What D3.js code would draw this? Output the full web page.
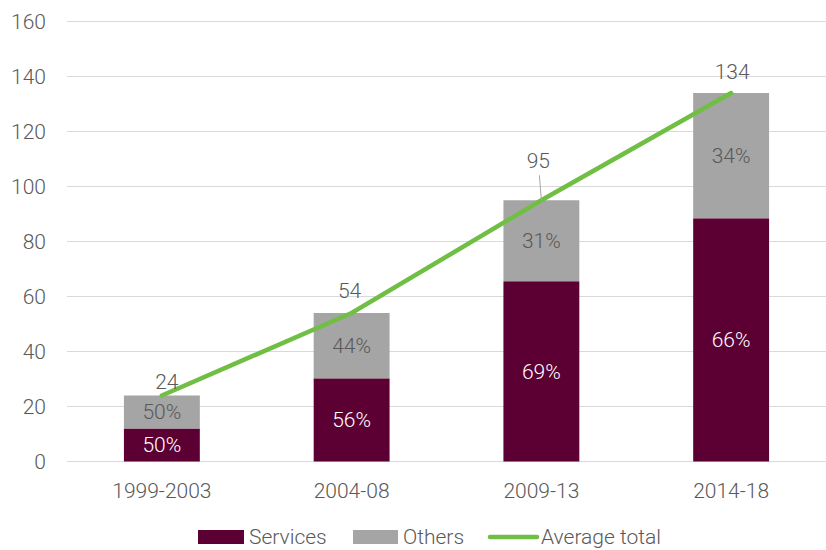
<!DOCTYPE html>
<html>
<head>
<meta charset="utf-8">
<script src="https://cdn.jsdelivr.net/npm/d3@7"></script>
<style>
  body { margin: 0; background: #fff; }
  text { font-family: Roboto, "Noto Sans", sans-serif; font-weight: 300; fill: #595959; }
</style>
</head>
<body>
<div id="chart"></div>
<script>
var periods = ["1999-2003", "2004-08", "2009-13", "2014-18"];
var totals = [24, 54, 95, 134];
var servicesShare = [50, 56, 69, 66];
var othersShare = [50, 44, 31, 34];
var yTicks = [0, 20, 40, 60, 80, 100, 120, 140, 160];

var width = 826, height = 550;
var margin = {top: 21.5, right: 0, bottom: 88.5, left: 67};
var w = width - margin.left - margin.right,
    h = height - margin.top - margin.bottom;

var colServ = "#5c0033", colOth = "#a5a5a5", colLine = "#70bf44";
var fs = "21px";

var svg = d3.select("#chart").append("svg")
    .attr("width", width)
    .attr("height", height);
var g = svg.append("g")
    .attr("transform", "translate(" + margin.left + "," + margin.top + ")");

var x = d3.scaleBand().domain(periods).range([0, w]).paddingInner(0.6).paddingOuter(0.3);
var y = d3.scaleLinear().domain([0, 160]).range([h, 0]);

// grid
g.selectAll(".grid")
  .data(yTicks)
  .enter().append("line")
    .attr("x1", 0).attr("x2", w)
    .attr("y1", function(d) { return y(d); })
    .attr("y2", function(d) { return y(d); })
    .attr("stroke", "#d9d9d9").attr("stroke-width", 1.2);

// y axis
var yAxis = g.append("g")
    .attr("transform", "translate(-21,0)")
    .call(d3.axisLeft(y).tickValues(yTicks).tickSize(0).tickPadding(0));
yAxis.select(".domain").remove();
yAxis.selectAll("text").style("font-size", fs).attr("fill", "#595959");

// x axis
var xAxis = g.append("g")
    .attr("transform", "translate(0," + h + ")")
    .call(d3.axisBottom(x).tickSize(0).tickPadding(22));
xAxis.select(".domain").remove();
xAxis.selectAll("text").style("font-size", fs).attr("fill", "#595959");

var data = periods.map(function(p, i) {
  var s = totals[i] * servicesShare[i] / 100;
  return {p: p, total: totals[i], serv: s, sp: servicesShare[i], op: othersShare[i]};
});

// bars
g.selectAll(".serv").data(data).enter().append("rect")
    .attr("x", function(d) { return x(d.p); })
    .attr("width", x.bandwidth())
    .attr("y", function(d) { return y(d.serv); })
    .attr("height", function(d) { return y(0) - y(d.serv); })
    .attr("fill", colServ);
g.selectAll(".oth").data(data).enter().append("rect")
    .attr("x", function(d) { return x(d.p); })
    .attr("width", x.bandwidth())
    .attr("y", function(d) { return y(d.total); })
    .attr("height", function(d) { return y(d.serv) - y(d.total); })
    .attr("fill", colOth);

// percent labels
g.selectAll(".sl").data(data).enter().append("text")
    .attr("x", function(d) { return x(d.p) + x.bandwidth() / 2; })
    .attr("y", function(d) { return (y(0) + y(d.serv)) / 2; })
    .attr("dy", "0.35em")
    .attr("text-anchor", "middle")
    .style("font-size", fs)
    .style("fill", "#fff")
    .text(function(d) { return d.sp + "%"; });
g.selectAll(".ol").data(data).enter().append("text")
    .attr("x", function(d) { return x(d.p) + x.bandwidth() / 2; })
    .attr("y", function(d) { return (y(d.serv) + y(d.total)) / 2; })
    .attr("dy", "0.35em")
    .attr("text-anchor", "middle")
    .style("font-size", fs)
    .text(function(d) { return d.op + "%"; });

// line
var line = d3.line()
    .x(function(d) { return x(d.p) + x.bandwidth() / 2; })
    .y(function(d) { return y(d.total); });
g.append("path")
    .datum(data)
    .attr("d", line)
    .attr("fill", "none")
    .attr("stroke", colLine)
    .attr("stroke-width", 4.5)
    .attr("stroke-linecap", "round");

// total labels (95 is lifted with a leader line)
var lift = [7, 15, 32, 14];
var dxs = [5, -2, -3, 1];
data.forEach(function(d, i) {
  var cx = x(d.p) + x.bandwidth() / 2;
  if (i === 2) {
    g.append("line")
      .attr("x1", cx - 2).attr("y1", y(d.total) - lift[i] + 7)
      .attr("x2", cx).attr("y2", y(d.total))
      .attr("stroke", "#a6a6a6").attr("stroke-width", 1);
  }
  g.append("text")
    .attr("x", cx + dxs[i])
    .attr("y", y(d.total) - lift[i])
    .attr("text-anchor", "middle")
    .style("font-size", fs)
    .text(d.total);
});

// legend
var leg = svg.append("g").attr("transform", "translate(0,537)");
leg.append("rect").attr("x", 198).attr("y", -7).attr("width", 46).attr("height", 14).attr("fill", colServ);
leg.append("text").attr("x", 249).attr("y", 0).attr("dy", "0.35em").style("font-size", fs).text("Services");
leg.append("rect").attr("x", 353).attr("y", -7).attr("width", 45).attr("height", 14).attr("fill", colOth);
leg.append("text").attr("x", 403).attr("y", 0).attr("dy", "0.35em").style("font-size", fs).text("Others");
leg.append("line").attr("x1", 490).attr("x2", 537).attr("y1", 0).attr("y2", 0)
  .attr("stroke", colLine).attr("stroke-width", 4.5).attr("stroke-linecap", "round");
leg.append("text").attr("x", 541).attr("y", 0).attr("dy", "0.35em").style("font-size", fs).text("Average total");
</script>
</body>
</html>
